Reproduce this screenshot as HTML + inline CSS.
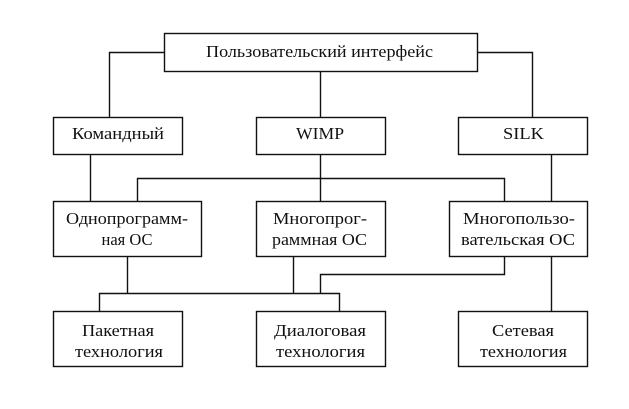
<!DOCTYPE html>
<html><head><meta charset="utf-8"><style>
body{margin:0;background:#fff}
svg text{font-family:"Liberation Serif",serif;font-size:16.5px;fill:#111}
</style></head><body>
<svg width="629" height="404" viewBox="0 0 629 404" xmlns="http://www.w3.org/2000/svg">
<g fill="none" stroke="#111" stroke-width="1.4">
<rect x="164.5" y="33.5" width="313" height="38"/>
<rect x="53.5" y="117.5" width="129" height="37"/>
<rect x="256.5" y="117.5" width="129" height="37"/>
<rect x="458.5" y="117.5" width="129" height="37"/>
<rect x="53.5" y="201.5" width="148" height="55"/>
<rect x="256.5" y="201.5" width="129" height="55"/>
<rect x="449.5" y="201.5" width="138" height="55"/>
<rect x="53.5" y="311.5" width="129" height="55"/>
<rect x="256.5" y="311.5" width="129" height="55"/>
<rect x="458.5" y="311.5" width="129" height="55"/>
<polyline points="164,52.5 109.5,52.5 109.5,117"/>
<polyline points="478,52.5 532.5,52.5 532.5,117"/>
<line x1="320.5" y1="72" x2="320.5" y2="117"/>
<line x1="320.5" y1="155" x2="320.5" y2="201"/>
<line x1="90.5" y1="155" x2="90.5" y2="201"/>
<line x1="551.5" y1="155" x2="551.5" y2="201"/>
<polyline points="137.5,201 137.5,178.5 504.5,178.5 504.5,201"/>
<polyline points="127.5,257 127.5,293.5"/>
<polyline points="293.5,257 293.5,293.5"/>
<polyline points="504.5,257 504.5,274.5 320.5,274.5 320.5,293.5"/>
<polyline points="99.5,311 99.5,293.5 339.5,293.5 339.5,311"/>
<line x1="551.5" y1="257" x2="551.5" y2="311"/>
</g>
<g>
<text x="206" y="57" textLength="227" lengthAdjust="spacingAndGlyphs">Пользовательский интерфейс</text>
<text x="72" y="139" textLength="92" lengthAdjust="spacingAndGlyphs">Командный</text>
<text x="296" y="139" textLength="48" lengthAdjust="spacingAndGlyphs">WIMP</text>
<text x="503" y="139" textLength="41" lengthAdjust="spacingAndGlyphs">SILK</text>
<text x="66" y="224" textLength="122" lengthAdjust="spacingAndGlyphs">Однопрограмм-</text>
<text x="127" y="245" text-anchor="middle">ная ОС</text>
<text x="273" y="224" textLength="94" lengthAdjust="spacingAndGlyphs">Многопрог-</text>
<text x="272" y="245" textLength="95" lengthAdjust="spacingAndGlyphs">раммная ОС</text>
<text x="463" y="224" textLength="112" lengthAdjust="spacingAndGlyphs">Многопользо-</text>
<text x="461" y="245" textLength="114" lengthAdjust="spacingAndGlyphs">вательская ОС</text>
<text x="82" y="336" textLength="72" lengthAdjust="spacingAndGlyphs">Пакетная</text>
<text x="75" y="357" textLength="88" lengthAdjust="spacingAndGlyphs">технология</text>
<text x="274" y="336" textLength="92" lengthAdjust="spacingAndGlyphs">Диалоговая</text>
<text x="276" y="357" textLength="89" lengthAdjust="spacingAndGlyphs">технология</text>
<text x="492" y="336" textLength="62" lengthAdjust="spacingAndGlyphs">Сетевая</text>
<text x="480" y="357" textLength="87" lengthAdjust="spacingAndGlyphs">технология</text>
</g>
</svg>
</body></html>
